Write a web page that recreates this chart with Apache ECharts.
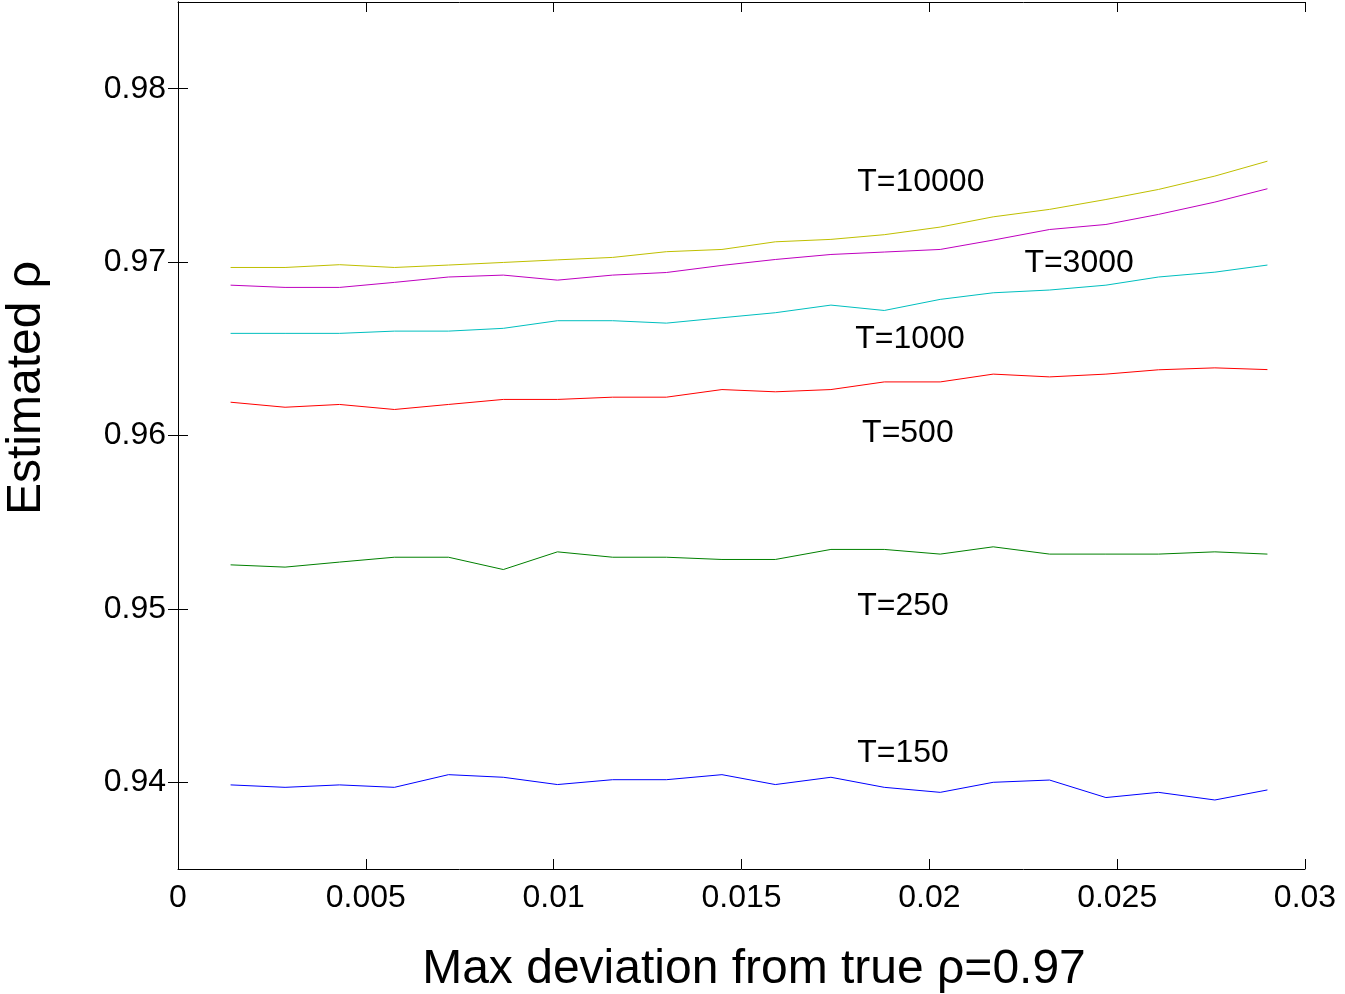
<!DOCTYPE html>
<html>
<head>
<meta charset="utf-8">
<script src="https://cdn.jsdelivr.net/npm/echarts@6/dist/echarts.min.js"></script>
<style>
html,body{margin:0;padding:0;background:#fff;}
#main{width:1345px;height:994px;}
</style>
</head>
<body>
<div id="main"></div>
<script>
// x positions (max deviation from true rho)
const xValues = [0.0014, 0.00285, 0.0043, 0.00576, 0.0072, 0.00866, 0.0101, 0.01157, 0.0130, 0.01448,
                 0.0159, 0.01738, 0.0188, 0.02029, 0.0217, 0.0232, 0.0247, 0.0261, 0.0276, 0.0290];

const seriesNames = ['T=10000', 'T=3000', 'T=1000', 'T=500', 'T=250', 'T=150'];

const t10000 = [0.96969, 0.96969, 0.96985, 0.96969, 0.96983, 0.96998, 0.97013, 0.97027, 0.97060, 0.97073,
                0.97117, 0.97131, 0.97158, 0.97202, 0.97261, 0.97304, 0.97361, 0.97419, 0.97496, 0.97582];
const t3000  = [0.96867, 0.96854, 0.96854, 0.96883, 0.96914, 0.96925, 0.96896, 0.96925, 0.96940, 0.96981,
                0.97015, 0.97044, 0.97058, 0.97073, 0.97127, 0.97188, 0.97217, 0.97275, 0.97346, 0.97423];
const t1000  = [0.96589, 0.96589, 0.96589, 0.96602, 0.96602, 0.96618, 0.96662, 0.96662, 0.96648, 0.96679,
                0.96708, 0.96752, 0.96721, 0.96785, 0.96823, 0.96839, 0.96867, 0.96914, 0.96942, 0.96983];
const t500   = [0.96192, 0.96163, 0.96179, 0.96150, 0.96179, 0.96208, 0.96208, 0.96221, 0.96221, 0.96265,
                0.96252, 0.96265, 0.96309, 0.96309, 0.96354, 0.96338, 0.96354, 0.96379, 0.96390, 0.96380];
const t250   = [0.95254, 0.95241, 0.95270, 0.95298, 0.95298, 0.95227, 0.95329, 0.95298, 0.95298, 0.95285,
                0.95285, 0.95343, 0.95343, 0.95316, 0.95358, 0.95316, 0.95316, 0.95316, 0.95329, 0.95316];
const t150   = [0.93985, 0.93971, 0.93985, 0.93971, 0.94044, 0.94029, 0.93987, 0.94015, 0.94015, 0.94044,
                0.93987, 0.94029, 0.93971, 0.93942, 0.94000, 0.94013, 0.93912, 0.93942, 0.93898, 0.93956];

const seriesColors = ['#BFBF00', '#BF00BF', '#00BFBF', '#FF0000', '#008000', '#0000FF'];

// annotation anchor points (left edge, vertical middle) in data coordinates
const labelX = [0.01808, 0.02253, 0.01803, 0.01821, 0.01808, 0.01808];
const labelY = [0.97461, 0.96994, 0.96556, 0.96014, 0.95016, 0.94169];

const xTicks = [0, 0.005, 0.01, 0.015, 0.02, 0.025, 0.03];
const yTicks = [0.94, 0.95, 0.96, 0.97, 0.98];
const xTickLabels = ['0', '0.005', '0.01', '0.015', '0.02', '0.025', '0.03'];
const yTickLabels = ['0.94', '0.95', '0.96', '0.97', '0.98'];

const xTitle = 'Max deviation from true ρ=0.97';
const yTitle = 'Estimated ρ';

const allY = [t10000, t3000, t1000, t500, t250, t150];
const FONT = '"Liberation Sans", Arial, Helvetica, sans-serif';

const chart = echarts.init(document.getElementById('main'), null, {renderer: 'canvas'});

const lineSeries = allY.map((ys, i) => ({
  name: seriesNames[i],
  type: 'line',
  data: xValues.map((x, j) => [x, ys[j]]),
  showSymbol: false,
  symbol: 'none',
  lineStyle: {color: seriesColors[i], width: 1},
  itemStyle: {color: seriesColors[i]},
  z: 3,
  silent: true
}));

const labelSeries = {
  type: 'scatter',
  symbolSize: 0,
  silent: true,
  itemStyle: {opacity: 1, color: '#000'},
  data: seriesNames.map((n, i) => ({value: [labelX[i], labelY[i]], name: n})),
  label: {
    show: true,
    position: [0, 0],
    align: 'left',
    verticalAlign: 'middle',
    formatter: p => p.name,
    fontFamily: FONT,
    fontSize: 32,
    color: '#000',
    opacity: 1,
    textBorderWidth: 0
  },
  z: 4
};

const axisLineStyle = {show: true, lineStyle: {color: '#000', width: 1}};

const option = {
  animation: false,
  backgroundColor: '#fff',
  grid: {left: 178, right: 40, top: 2, bottom: 125, containLabel: false},
  xAxis: [{
    type: 'value',
    min: 0, max: 0.03, interval: 0.005,
    position: 'bottom',
    axisLine: axisLineStyle,
    axisTick: {show: true, inside: true, length: 10, lineStyle: {color: '#000'}},
    splitLine: {show: false},
    axisLabel: {
      margin: 13, fontSize: 32, fontFamily: FONT, color: '#000',
      formatter: v => { const i = xTicks.findIndex(t => Math.abs(t - v) < 1e-9); return i >= 0 ? xTickLabels[i] : ''; }
    }
  }, {
    type: 'value',
    min: 0, max: 0.03, interval: 0.005,
    position: 'top',
    axisLine: axisLineStyle,
    axisTick: {show: true, inside: true, length: 10, lineStyle: {color: '#000'}},
    splitLine: {show: false},
    axisLabel: {show: false}
  }],
  yAxis: [{
    type: 'value',
    min: 0.935, max: 0.985,
    position: 'left',
    axisLine: axisLineStyle,
    axisTick: {show: true, inside: true, length: 10, lineStyle: {color: '#000'}, customValues: yTicks},
    splitLine: {show: false},
    axisLabel: {
      margin: 12, fontSize: 32, fontFamily: FONT, color: '#000',
      customValues: yTicks,
      formatter: v => { const i = yTicks.findIndex(t => Math.abs(t - v) < 1e-9); return i >= 0 ? yTickLabels[i] : ''; }
    }
  }, {
    type: 'value',
    min: 0.935, max: 0.985,
    position: 'right',
    axisLine: axisLineStyle,
    axisTick: {show: true, inside: true, length: 10, lineStyle: {color: '#000'}, customValues: yTicks},
    splitLine: {show: false},
    axisLabel: {show: false}
  }],
  graphic: [{
    type: 'text',
    x: 754,
    y: 970,
    style: {text: xTitle, font: '48px ' + FONT, fill: '#000', textAlign: 'center', textVerticalAlign: 'middle'}
  }, {
    type: 'text',
    x: 27,
    y: 388,
    rotation: Math.PI / 2,
    style: {text: yTitle, font: '48px ' + FONT, fill: '#000', textAlign: 'center', textVerticalAlign: 'middle'}
  }],
  series: lineSeries.concat([labelSeries])
};

chart.setOption(option);
</script>
</body>
</html>
